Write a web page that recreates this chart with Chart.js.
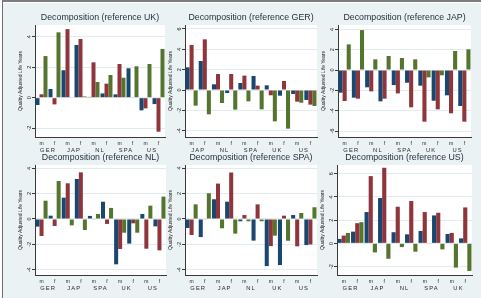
<!DOCTYPE html>
<html>
<head>
<meta charset="utf-8">
<script src="https://cdn.jsdelivr.net/npm/chart.js@4.4.0/dist/chart.umd.min.js"></script>
<style>
  body { margin: 0; background: #fff; }
  #wrap { position: relative; width: 481px; height: 298px; overflow: hidden; background: #EAF2F3; }
  #wrap canvas { position: absolute; }
  .line { position: absolute; }
</style>
</head>
<body>
<div id="wrap">
  <div class="line" style="left:0;top:0;width:481px;height:2px;background:#7d7d7d"></div>
  <div class="line" style="left:0;top:2px;width:481px;height:1px;background:#fff"></div>
  <div class="line" style="left:0;top:0;width:2px;height:298px;background:#fff"></div>
  <div class="line" style="left:2px;top:0;width:1px;height:298px;background:#6f6f6f"></div>
  <canvas id="pUK" width="162" height="156" style="left:5px;top:0"></canvas>
  <canvas id="pGER" width="164" height="156" style="left:155px;top:0"></canvas>
  <canvas id="pJAP" width="165" height="156" style="left:308px;top:0"></canvas>
  <canvas id="pNL" width="163" height="144" style="left:5px;top:150px"></canvas>
  <canvas id="pSPA" width="164" height="144" style="left:155px;top:150px"></canvas>
  <canvas id="pUS" width="167" height="144" style="left:307px;top:150px"></canvas>
</div>
<script>
// categories
const sexes = ["m", "f", "m", "f", "m", "f", "m", "f", "m", "f"];
const countriesUK = ["GER", "JAP", "NL", "SPA", "US"];
const countriesGER = ["JAP", "NL", "SPA", "UK", "US"];
const countriesJAP = ["GER", "NL", "SPA", "UK", "US"];
const countriesNL = ["GER", "JAP", "SPA", "UK", "US"];
const countriesSPA = ["GER", "JAP", "NL", "UK", "US"];
const countriesUS = ["GER", "JAP", "NL", "SPA", "UK"];

// values, order: m,f per country
const blueUK = [-0.48, 0.57, 1.8, 3.46, 0.05, 0.28, 0.22, 1.93, -0.83, -0.42];
const redUK = [0.22, -0.44, 4.5, 3.85, 2.32, 0.92, 2.21, -0.03, -0.7, -2.23];
const greenUK = [2.73, 4.29, 0.03, 0.08, 1.03, 1.49, 1.31, 2.06, 2.21, 3.2];

const blueGER = [2.23, 2.85, 0.56, -0.3, 0.69, 1.38, 0.46, -0.56, -0.39, -0.98];
const redGER = [4.43, 4.98, 1.57, 1.57, 1.41, 0.43, -0.52, 0.89, -1.15, -1.44];
const greenGER = [-1.54, -2.39, -1.28, -1.93, -1.11, -1.9, -3.08, -3.8, -1.25, -1.57];

const blueJAP = [-2.23, -2.72, -1.7, -3.08, -1.48, -1.25, -1.54, -3.02, -2.49, -3.54];
const redJAP = [-3.05, -2.82, -2.1, -2.82, -2.3, -3.67, -5.08, -3.87, -4.26, -5.08];
const greenJAP = [2.52, 3.93, 1.05, 1.38, 1.18, 1.05, -0.72, -0.52, 1.87, 2.03];

const blueNL = [-0.6, 0.26, 1.68, 3.15, 0.24, 1.36, -3.57, -1.94, 0.39, -0.58];
const redNL = [-1.34, -0.55, 2.81, 3.67, -0.05, -0.39, -2.36, -0.34, -2.34, -2.47];
const greenNL = [1.44, 2.99, -0.5, -0.87, 0.39, 0.87, -1.08, -1.08, 1.05, 1.76];

const blueSPA = [-0.71, -1.42, 1.55, 1.36, -0.18, -1.7, -3.7, -3.62, 0.31, -2.05];
const redSPA = [-1.26, -0.05, 2.78, 3.65, 0.31, 1.15, -2.13, 0.26, -2.15, -2.0];
const greenSPA = [1.15, 2.02, -0.73, -1.15, -0.18, -0.18, -1.31, -1.71, 0.47, 0.92];

const blueUS = [0.38, 1.01, 2.7, 3.91, 0.96, 0.78, 1.07, 2.41, 0.81, 0.43];
const redUS = [0.67, 1.74, 5.8, 6.52, 3.16, 3.65, 2.7, 2.64, 0.9, 3.1];
const greenUS = [0.9, 1.83, -0.78, -1.33, -0.32, -0.72, -0.05, -0.52, -2.09, -2.38];

// y tick labels
const ticksUK = [-2, 0, 2, 4];
const ticksGER = [-4, -2, 0, 2, 4, 6];
const ticksJAP = [-6, -4, -2, 0, 2, 4];
const ticksNL = [-4, -2, 0, 2, 4];
const ticksSPA = [-4, -2, 0, 2, 4];
const ticksUS = [-2, 0, 2, 4, 6];

Chart.defaults.font.family = "'Liberation Sans', Arial, sans-serif";

// white plot region + panel title centred over the plot (stata style)
const panelDeco = {
  id: "panelDeco",
  beforeDraw(chart) {
    const a = chart.chartArea;
    const ctx = chart.ctx;
    ctx.save();
    ctx.fillStyle = "#fff";
    ctx.fillRect(a.left, a.top, a.right - a.left, a.bottom - a.top);
    ctx.restore();
  },
  afterDatasetsDraw(chart) {
    // country labels (x2, z=1) are drawn right after this, spaced out like stata
    chart.ctx.letterSpacing = "1.1px";
  },
  afterDraw(chart, args, opts) {
    const a = chart.chartArea;
    const ctx = chart.ctx;
    ctx.letterSpacing = "0px";
    ctx.save();
    ctx.fillStyle = "#1e2b38";
    ctx.font = "8.8px 'Liberation Sans', Arial, sans-serif";
    ctx.textAlign = "center";
    ctx.textBaseline = "middle";
    ctx.fillText(opts.text, (a.left + a.right) / 2, a.top - 7);
    ctx.restore();
  }
};

function makePanel(id, title, countries, blue, red, green, yMin, yMax, yTicks, row) {
  // row 0 = top, row 1 = bottom
  const padTop = row == 0 ? 25 : 15;
  new Chart(document.getElementById(id), {
    type: "bar",
    data: {
      labels: sexes,
      datasets: [
        { data: blue, backgroundColor: "#1A476F" },
        { data: red, backgroundColor: "#90353B" },
        { data: green, backgroundColor: "#55752F" }
      ]
    },
    options: {
      responsive: false,
      animation: false,
      categoryPercentage: 0.92,
      barPercentage: 1,
      layout: { padding: { left: 0, right: 2, top: padTop, bottom: 0 } },
      plugins: {
        legend: { display: false },
        tooltip: { enabled: false },
        panelDeco: { text: title }
      },
      scales: {
        x: {
          weight: 0,
          offset: true,
          grid: { display: false, drawTicks: false },
          border: { display: true, color: "#3a3a3a", width: 1 },
          ticks: { color: "#222", font: { size: 5 }, padding: 3.5, maxRotation: 0, autoSkip: false },
          afterFit: (s) => { s.height = 9; }
        },
        x2: {
          type: "category",
          labels: countries,
          position: "bottom",
          weight: 1,
          offset: true,
          grid: { display: false, drawTicks: false },
          border: { display: false },
          ticks: { z: 1, color: "#2a2a2a", font: { size: 5.8 }, padding: 1, maxRotation: 0 },
          afterFit: (s) => { s.height = 10; }
        },
        y: {
          min: yMin,
          max: yMax,
          afterBuildTicks: (s) => { s.ticks = yTicks.map((v) => ({ value: v })); },
          grid: { color: "#E2EBED", tickColor: "#3a3a3a", tickLength: 3 },
          border: { color: "#3a3a3a", width: 1 },
          ticks: { color: "#222", font: { size: 5.5 }, minRotation: 90, maxRotation: 90, crossAlign: "center", padding: 0 },
          title: {
            display: true,
            text: "Quality Adjusted Life Years",
            color: "#222",
            font: { size: 5 },
            padding: { top: 12.7, bottom: 0 }
          },
          afterFit: (s) => { s.width = 30; }
        }
      }
    },
    plugins: [panelDeco]
  });
}

makePanel("pUK", "Decomposition (reference UK)", countriesUK, blueUK, redUK, greenUK, -2.58, 4.77, ticksUK, 0);
makePanel("pGER", "Decomposition (reference GER)", countriesGER, blueGER, redGER, greenGER, -4.62, 6.39, ticksGER, 0);
makePanel("pJAP", "Decomposition (reference JAP)", countriesJAP, blueJAP, redJAP, greenJAP, -6.59, 4.43, ticksJAP, 0);
makePanel("pNL", "Decomposition (reference NL)", countriesNL, blueNL, redNL, greenNL, -4.41, 4.25, ticksNL, 1);
makePanel("pSPA", "Decomposition (reference SPA)", countriesSPA, blueSPA, redSPA, greenSPA, -4.4, 4.24, ticksSPA, 1);
makePanel("pUS", "Decomposition (reference US)", countriesUS, blueUS, redUS, greenUS, -2.73, 6.76, ticksUS, 1);
</script>
</body>
</html>
